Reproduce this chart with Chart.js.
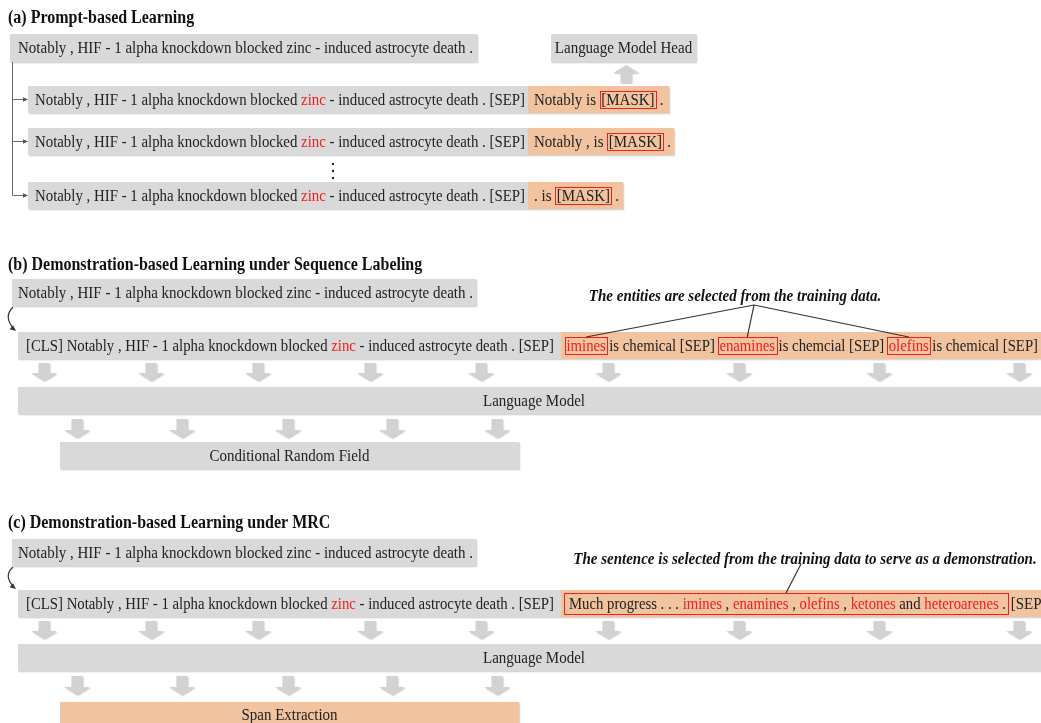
<!DOCTYPE html>
<html>
<head>
<meta charset="utf-8">
<script src="https://cdn.jsdelivr.net/npm/chart.js@4.4.1/dist/chart.umd.min.js"></script>
<style>
html,body{margin:0;padding:0;background:#fff;overflow:hidden;}
canvas{display:block;}
</style>
</head>
<body>
<canvas id="c" width="1041" height="723"></canvas>
<script>
// ---------------- content (text data) ----------------
const sectionTitles = [
  "(a) Prompt-based Learning",
  "(b) Demonstration-based Learning under Sequence Labeling",
  "(c) Demonstration-based Learning under MRC"
];
const sourceSentence = "Notably , HIF - 1 alpha knockdown blocked zinc - induced astrocyte death .";
const sentenceBefore = "Notably , HIF - 1 alpha knockdown blocked ";
const keyEntity = "zinc";
const sentenceAfter = " - induced astrocyte death .";
const clsToken = "[CLS]";
const sepToken = "[SEP]";
const maskToken = "[MASK]";
const promptPrefixes = ["Notably is ", "Notably , is ", ". is "];
const promptSuffix = " .";
const demoEntities = ["imines", "enamines", "olefins"];
const demoTemplates = ["is chemical [SEP]", "is chemcial [SEP]", "is chemical [SEP]"];
const demoSentenceWords = ["Much progress . . . ", "imines", " , ", "enamines", " , ", "olefins", " , ", "ketones", " and ", "heteroarenes", " ."];
const demoSentenceIsEntity = [false, true, false, true, false, true, false, true, false, true, false];
const demoSentenceTail = " [SEP]";
const moduleNames = ["Language Model Head", "Language Model", "Conditional Random Field", "Language Model", "Span Extraction"];
const annotationTexts = [
  "The entities are selected from the training data.",
  "The sentence is selected from the training data to serve as a demonstration."
];

// ---------------- layout (page units, drawn through the chart scales) ----------------
const titleY = [18, 265, 523];
const srcBoxA = [10, 34, 477, 62];
const headBox = [551, 34, 696, 62];
const headArrow = [626, 83, 65];          // cx, base, tip
const promptRowTop = [86, 128, 182];
const promptOrangeEnd = [669, 674, 623];
const dotsY = [164, 171, 178];
const sectionSrcBox = [[12, 279, 476, 306], [12, 539, 476, 566]];
const sectionRowTop = [332, 590];
const sectionLMTop = [387, 644];
const sectionHeadTop = [442, 702];
const arrowXs1 = [44, 151, 258, 370, 481, 608, 739, 879, 1019];
const arrowXs2 = [77, 182, 288, 392, 497];
const annotCenter = [[735, 296], [805, 559]];
const annotApex = [[754, 305], [801, 564]];

const FONT = '"Liberation Serif", "Times New Roman", serif';
const VS = 1.18; // glyphs are taller than wide in the reference
const C_GRAY = '#d9d9d9', C_ORANGE = '#f1c39f', C_TEXT = '#222222', C_RED = '#ee2020', C_ARROW = '#d2d2d2';

const diagramPlugin = {
  id: 'diagram',
  beforeDraw(chart) {
    const ctx = chart.ctx;
    ctx.save();
    ctx.fillStyle = '#fff';
    ctx.fillRect(0, 0, chart.width, chart.height);
    ctx.restore();
  },
  afterDraw(chart) {
    const ctx = chart.ctx;
    const sx = chart.scales.x, sy = chart.scales.y;
    const X = v => sx.getPixelForValue(v);
    const Y = v => sy.getPixelForValue(v);

    function shadowOn() {
      ctx.shadowColor = 'rgba(0,0,0,0.22)';
      ctx.shadowOffsetX = 1; ctx.shadowOffsetY = 1; ctx.shadowBlur = 1.5;
    }
    function box(x0, y0, x1, y1, color) {
      ctx.save();
      shadowOn();
      ctx.fillStyle = color;
      ctx.fillRect(X(x0), Y(y0), X(x1) - X(x0), Y(y1) - Y(y0));
      ctx.restore();
    }
    function text(t, x, y, opts) {
      opts = opts || {};
      const size = (opts.size || 15) * VS;
      ctx.save();
      ctx.font = (opts.style || '') + ' ' + size + 'px ' + FONT;
      ctx.fillStyle = opts.color || C_TEXT;
      ctx.textAlign = opts.align || 'left';
      ctx.textBaseline = 'middle';
      ctx.translate(X(x), Y(y));
      ctx.scale(1 / VS, 1);
      ctx.fillText(t, 0, 0.5);
      ctx.restore();
    }
    // rich text: segments {t, red, box, gap}; returns boxed rects in pixel coords
    function rich(segs, x, yc, maxW) {
      ctx.save();
      ctx.font = (15 * VS) + 'px ' + FONT;
      ctx.textBaseline = 'middle';
      const pad = 1.5, bh = 17;
      const widths = segs.map(s => ctx.measureText(s.t).width / VS + (s.box ? pad * 2 : 0) + (s.gap || 0));
      const total = widths.reduce((a, b) => a + b, 0);
      const px0 = X(x), pyc = Y(yc);
      const k = maxW ? Math.min(1, (X(x + maxW) - X(x)) / total) : 1;
      let cur = 0;
      const rects = [];
      segs.forEach((s, i) => {
        const left = px0 + cur * k;
        const bw = (widths[i] - (s.gap || 0)) * k;
        ctx.save();
        ctx.translate(left + (s.box ? pad * k : 0), pyc);
        ctx.scale(k / VS, 1);
        ctx.fillStyle = s.red ? C_RED : C_TEXT;
        ctx.fillText(s.t, 0, 0.5);
        ctx.restore();
        if (s.box) {
          ctx.strokeStyle = C_RED;
          ctx.lineWidth = 1;
          ctx.strokeRect(Math.round(left) + 0.5, Math.round(pyc - bh / 2) + 0.5, Math.round(bw), bh);
          rects.push({x0: left, x1: left + bw, top: pyc - bh / 2});
        }
        cur += widths[i];
      });
      ctx.restore();
      return rects;
    }
    function downArrow(cx, y0, y1) {
      const hw = 5.5, hh = 13, headH = 8;
      ctx.save();
      shadowOn();
      ctx.fillStyle = C_ARROW;
      ctx.beginPath();
      ctx.moveTo(X(cx - hw), Y(y0));
      ctx.lineTo(X(cx + hw), Y(y0));
      ctx.lineTo(X(cx + hw), Y(y1 - headH));
      ctx.lineTo(X(cx + hh), Y(y1 - headH));
      ctx.lineTo(X(cx), Y(y1));
      ctx.lineTo(X(cx - hh), Y(y1 - headH));
      ctx.lineTo(X(cx - hw), Y(y1 - headH));
      ctx.closePath();
      ctx.fill();
      ctx.restore();
    }
    function upArrow(cx, yb, yt) {
      const hw = 5.5, hh = 13, headH = 8;
      ctx.save();
      shadowOn();
      ctx.fillStyle = C_ARROW;
      ctx.beginPath();
      ctx.moveTo(X(cx - hw), Y(yb));
      ctx.lineTo(X(cx + hw), Y(yb));
      ctx.lineTo(X(cx + hw), Y(yt + headH));
      ctx.lineTo(X(cx + hh), Y(yt + headH));
      ctx.lineTo(X(cx), Y(yt));
      ctx.lineTo(X(cx - hh), Y(yt + headH));
      ctx.lineTo(X(cx - hw), Y(yt + headH));
      ctx.closePath();
      ctx.fill();
      ctx.restore();
    }
    function smallHead(x, y, ang, size, color) {
      ctx.save();
      ctx.fillStyle = color;
      ctx.translate(X(x), Y(y));
      ctx.rotate(ang);
      ctx.beginPath();
      ctx.moveTo(0, 0);
      ctx.lineTo(-size, -size * 0.45);
      ctx.lineTo(-size, size * 0.45);
      ctx.closePath();
      ctx.fill();
      ctx.restore();
    }
    const sentenceSegs = () => [
      {t: sentenceBefore}, {t: keyEntity, red: true}, {t: sentenceAfter + ' ' + sepToken}
    ];

    // ---------- titles ----------
    sectionTitles.forEach((t, i) => text(t, 8, titleY[i], {style: 'bold', size: 16, color: '#111'}));

    // ---------- (a) ----------
    box(srcBoxA[0], srcBoxA[1], srcBoxA[2], srcBoxA[3], C_GRAY);
    text(sourceSentence, 18, (srcBoxA[1] + srcBoxA[3]) / 2);
    box(headBox[0], headBox[1], headBox[2], headBox[3], C_GRAY);
    text(moduleNames[0], (headBox[0] + headBox[2]) / 2, (headBox[1] + headBox[3]) / 2, {align: 'center'});
    upArrow(headArrow[0], headArrow[1], headArrow[2]);

    // connector
    ctx.save();
    ctx.strokeStyle = '#6a6a6a';
    ctx.lineWidth = 1;
    ctx.beginPath();
    ctx.moveTo(X(12.5), Y(srcBoxA[3]));
    ctx.lineTo(X(12.5), Y(promptRowTop[2] + 13.5));
    promptRowTop.forEach(t => {
      ctx.moveTo(X(12.5), Y(t + 13.5));
      ctx.lineTo(X(25), Y(t + 13.5));
    });
    ctx.stroke();
    ctx.restore();
    promptRowTop.forEach(t => smallHead(28, t + 13.5, 0, 5, '#555'));

    promptRowTop.forEach((t, i) => {
      box(28, t, 528, t + 27, C_GRAY);
      box(528, t, promptOrangeEnd[i], t + 27, C_ORANGE);
      rich(sentenceSegs(), 35, t + 13.5, 490);
      rich([{t: promptPrefixes[i]}, {t: maskToken, box: true}, {t: promptSuffix}], 534, t + 13.5);
    });
    // vertical ellipsis
    ctx.save();
    ctx.fillStyle = '#222';
    dotsY.forEach(y => { ctx.beginPath(); ctx.arc(X(333), Y(y), 1.2, 0, Math.PI * 2); ctx.fill(); });
    ctx.restore();

    // ---------- (b) and (c) ----------
    [0, 1].forEach(s => {
      const sb = sectionSrcBox[s];
      box(sb[0], sb[1], sb[2], sb[3], C_GRAY);
      text(sourceSentence, 18, (sb[1] + sb[3]) / 2);
      // curved arrow
      const rt = sectionRowTop[s];
      ctx.save();
      ctx.strokeStyle = '#333';
      ctx.lineWidth = 1.2;
      ctx.beginPath();
      ctx.moveTo(X(13), Y(sb[3] + 1));
      ctx.quadraticCurveTo(X(3), Y((sb[3] + rt) / 2 - 2), X(14), Y(rt - 3));
      ctx.stroke();
      ctx.restore();
      smallHead(16, rt - 1, Math.atan2(Y(rt - 1) - Y(rt - 5), X(16) - X(11)), 6, '#333');

      box(18, rt, 561, rt + 27, C_GRAY);
      box(561, rt, 1045, rt + 27, C_ORANGE);
      rich([{t: clsToken + ' '}].concat(sentenceSegs()), 26, rt + 13.5, 528);

      let rects;
      if (s === 0) {
        const segs = [];
        demoEntities.forEach((e, i) => {
          segs.push({t: e, red: true, box: true, gap: 2});
          segs.push({t: demoTemplates[i], gap: i < 2 ? 3 : 0});
        });
        rects = rich(segs, 565, rt + 13.5, 473);
      } else {
        const segs = demoSentenceWords.map((w, i) => ({t: w, red: demoSentenceIsEntity[i]}));
        ctx.save();
        ctx.beginPath();
        ctx.rect(0, 0, X(1041), chart.height);
        ctx.clip();
        rich(segs, 569, rt + 13.5, 437);
        rich([{t: demoSentenceTail}], 1007, rt + 13.5);
        ctx.restore();
        ctx.save();
        ctx.strokeStyle = C_RED;
        ctx.lineWidth = 1;
        ctx.strokeRect(X(564) + 0.5, Y(rt + 3) + 0.5, X(1008) - X(564), Y(rt + 24) - Y(rt + 3));
        ctx.restore();
        rects = [{x0: X(564), x1: X(1008), top: Y(rt + 3)}];
      }
      // annotation
      text(annotationTexts[s], annotCenter[s][0], annotCenter[s][1], {style: 'italic bold', align: 'center', color: '#111'});
      ctx.save();
      ctx.strokeStyle = '#333';
      ctx.lineWidth = 1.2;
      ctx.beginPath();
      rects.forEach(r => {
        ctx.moveTo(X(annotApex[s][0]), Y(annotApex[s][1]));
        ctx.lineTo((r.x0 + r.x1) / 2, r.top);
      });
      ctx.stroke();
      ctx.restore();

      arrowXs1.forEach(cx => downArrow(cx, rt + 31, rt + 49));
      const lt = sectionLMTop[s];
      box(18, lt, 1045, lt + 27, C_GRAY);
      text(moduleNames[s === 0 ? 1 : 3], 534, lt + 13.5, {align: 'center'});
      arrowXs2.forEach(cx => downArrow(cx, lt + 32, lt + 51));
      const ht = sectionHeadTop[s];
      box(60, ht, 519, ht + 27, s === 0 ? C_GRAY : C_ORANGE);
      text(moduleNames[s === 0 ? 2 : 4], 289.5, s === 0 ? ht + 13.5 : ht + 13, {align: 'center'});
    });
  }
};

new Chart(document.getElementById('c'), {
  type: 'scatter',
  data: {datasets: [{data: [], pointRadius: 0}]},
  options: {
    responsive: false,
    animation: false,
    devicePixelRatio: 1,
    layout: {padding: 0},
    plugins: {legend: {display: false}, tooltip: {enabled: false}, title: {display: false}},
    scales: {
      x: {type: 'linear', min: 0, max: 1041, display: false},
      y: {type: 'linear', min: 0, max: 723, reverse: true, display: false}
    }
  },
  plugins: [diagramPlugin]
});
</script>
</body>
</html>
